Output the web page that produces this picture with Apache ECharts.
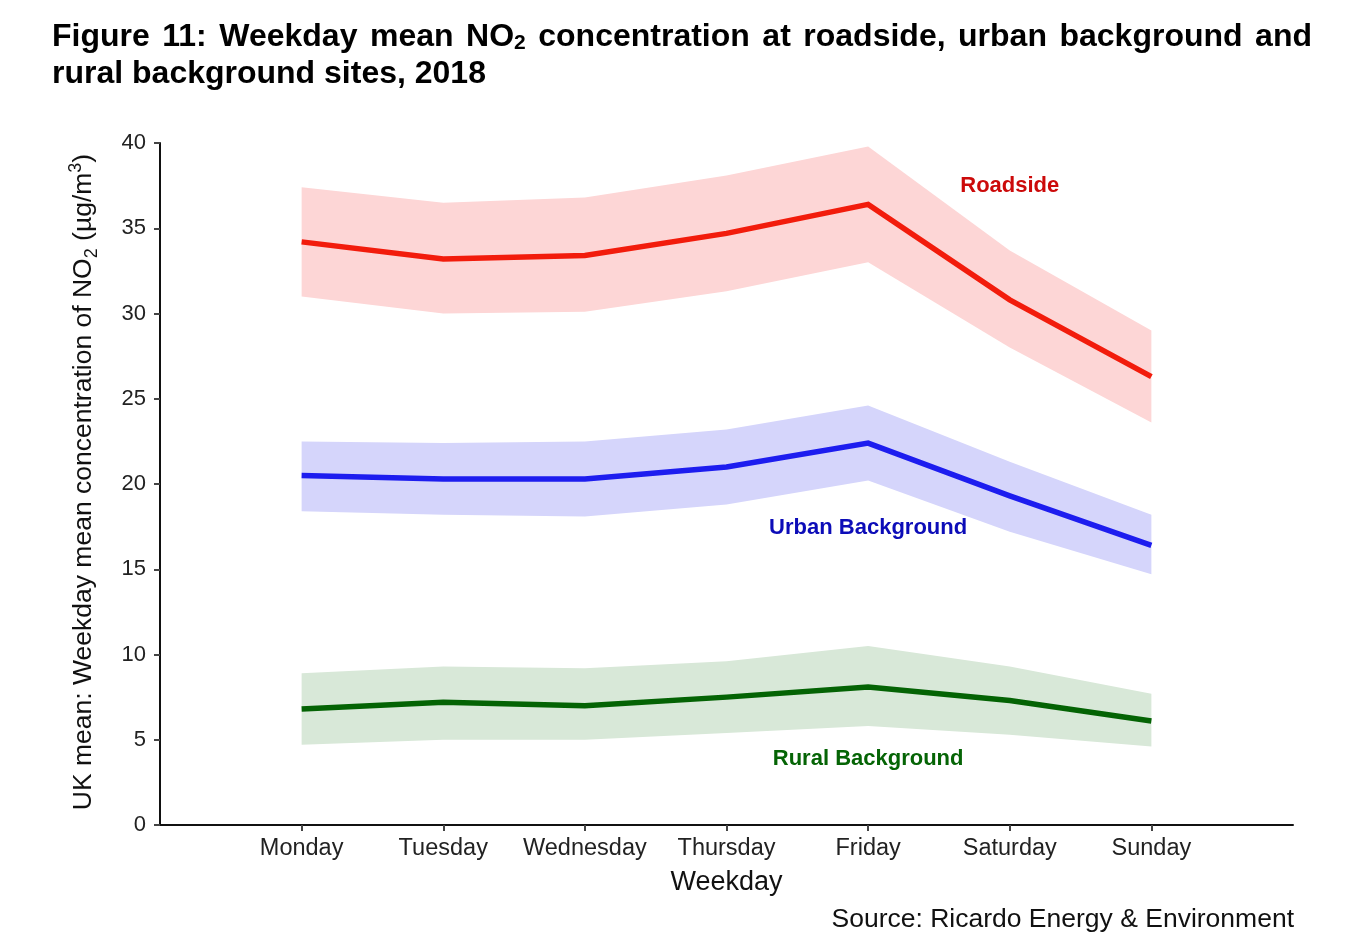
<!DOCTYPE html>
<html>
<head>
<meta charset="utf-8">
<script src="https://cdn.jsdelivr.net/npm/echarts@6/dist/echarts.min.js"></script>
<style>
html,body{margin:0;padding:0;background:#fff;}
#chart{width:1355px;height:944px;}
</style>
</head>
<body>
<div id="chart"></div>
<script>
// ---- data ----
const categories = ['Monday', 'Tuesday', 'Wednesday', 'Thursday', 'Friday', 'Saturday', 'Sunday'];
const roadMean  = [34.2, 33.2, 33.4, 34.7, 36.4, 30.8, 26.3];
const roadUpper = [37.4, 36.5, 36.8, 38.1, 39.8, 33.7, 29.0];
const roadLower = [31.0, 30.0, 30.1, 31.3, 33.0, 28.0, 23.6];
const urbanMean  = [20.5, 20.3, 20.3, 21.0, 22.4, 19.3, 16.4];
const urbanUpper = [22.5, 22.4, 22.5, 23.2, 24.6, 21.3, 18.2];
const urbanLower = [18.4, 18.2, 18.1, 18.8, 20.2, 17.2, 14.7];
const ruralMean  = [6.8, 7.2, 7.0, 7.5, 8.1, 7.3, 6.1];
const ruralUpper = [8.9, 9.3, 9.2, 9.6, 10.5, 9.3, 7.7];
const ruralLower = [4.7, 5.0, 5.0, 5.4, 5.8, 5.3, 4.6];
const yTicks = [0, 5, 10, 15, 20, 25, 30, 35, 40];
const seriesLabels = [
  {name: 'Roadside', day: 'Saturday', value: 37.5},
  {name: 'Urban Background', day: 'Friday', value: 17.4},
  {name: 'Rural Background', day: 'Friday', value: 3.9}
];

const FONT = '"Liberation Sans", Arial, Helvetica, sans-serif';
const xCats = [''].concat(categories).concat(['']);
const pad = arr => [null].concat(arr).concat([null]);
const diff = (u, l) => u.map((v, i) => +(v - l[i]).toFixed(2));

const groups = [
  {key: 'road', mean: roadMean, upper: roadUpper, lower: roadLower, line: '#f21c0c', band: '#fdd6d6', label: '#cc0a0a'},
  {key: 'urban', mean: urbanMean, upper: urbanUpper, lower: urbanLower, line: '#1d1def', band: '#d5d5fb', label: '#0c0cb8'},
  {key: 'rural', mean: ruralMean, upper: ruralUpper, lower: ruralLower, line: '#046304', band: '#d8e8d8', label: '#056405'}
];

const series = [];
groups.forEach(g => {
  series.push({
    type: 'line', stack: g.key, data: pad(g.lower), symbol: 'none',
    lineStyle: {opacity: 0}, silent: true, z: 1
  });
  series.push({
    type: 'line', stack: g.key, data: pad(diff(g.upper, g.lower)), symbol: 'none',
    lineStyle: {opacity: 0}, areaStyle: {color: g.band, opacity: 1}, silent: true, z: 1
  });
});
groups.forEach(g => {
  series.push({
    type: 'line', data: pad(g.mean), symbol: 'none',
    lineStyle: {color: g.line, width: 5.5, join: 'miter'}, z: 3
  });
});
series.push({
  type: 'scatter', symbolSize: 1, itemStyle: {color: '#ffffff', opacity: 0},
  data: seriesLabels.map((s, i) => ({value: [s.day, s.value], name: s.name,
    label: {show: true, position: 'inside', formatter: s.name, color: groups[i].label, opacity: 1,
      fontFamily: FONT, fontWeight: 'bold', fontSize: 22}})),
  z: 4
});

// ---- title: justified first line ----
const graphics = [];
const ctx = document.createElement('canvas').getContext('2d');
const TS = 32, TSUB = 21;
function wordWidth(w) {
  if (w === 'NO2') {
    ctx.font = 'bold ' + TS + 'px ' + FONT; const a = ctx.measureText('NO').width;
    ctx.font = 'bold ' + TSUB + 'px ' + FONT; return a + ctx.measureText('2').width;
  }
  ctx.font = 'bold ' + TS + 'px ' + FONT; return ctx.measureText(w).width;
}
const line1 = ['Figure', '11:', 'Weekday', 'mean', 'NO2', 'concentration', 'at', 'roadside,', 'urban', 'background', 'and'];
const L = 52, R = 1312, Y1 = 37, Y2 = 74;
const widths = line1.map(wordWidth);
const gap = (R - L - widths.reduce((a, b) => a + b, 0)) / (line1.length - 1);
let cx = L;
line1.forEach((w, i) => {
  const text = w === 'NO2' ? '{b|NO}{s|2}' : '{b|' + w + '}';
  graphics.push({type: 'text', x: cx, y: Y1, style: {
    text: text, verticalAlign: 'middle', align: 'left',
    rich: {b: {fontFamily: FONT, fontWeight: 'bold', fontSize: TS, fill: '#000', lineHeight: 34},
           s: {fontFamily: FONT, fontWeight: 'bold', fontSize: TSUB, fill: '#000', lineHeight: 34, verticalAlign: 'bottom'}}
  }});
  cx += widths[i] + gap;
});
graphics.push({type: 'text', x: L, y: Y2, style: {
  text: 'rural background sites, 2018', verticalAlign: 'middle', align: 'left',
  fontFamily: FONT, fontWeight: 'bold', fontSize: TS, fill: '#000'
}});
// y-axis name
graphics.push({type: 'text', x: 84, y: 482, rotation: Math.PI / 2, style: {
  text: '{t|UK mean: Weekday mean concentration of NO}{sub|2}{t| (µg/m}{sup|3}{t|)}',
  align: 'center', verticalAlign: 'middle',
  rich: {
    t: {fontFamily: FONT, fontSize: 26.5, fill: '#111', lineHeight: 34},
    sub: {fontFamily: FONT, fontSize: 18, fill: '#111', lineHeight: 34, verticalAlign: 'bottom'},
    sup: {fontFamily: FONT, fontSize: 18, fill: '#111', lineHeight: 34, verticalAlign: 'top'}
  }
}});
// source
graphics.push({type: 'text', x: 1294, y: 920, style: {
  text: 'Source: Ricardo Energy & Environment', align: 'right', verticalAlign: 'middle',
  fontFamily: FONT, fontSize: 26.5, fill: '#111'
}});

const chart = echarts.init(document.getElementById('chart'), null, {renderer: 'canvas'});
chart.setOption({
  backgroundColor: '#fff',
  animation: false,
  grid: {left: 160, right: 62, top: 143, bottom: 119, containLabel: false},
  xAxis: {
    type: 'category', data: xCats, boundaryGap: false,
    name: 'Weekday', nameLocation: 'middle', nameGap: 44,
    nameTextStyle: {fontFamily: FONT, fontSize: 27, color: '#111'},
    axisLine: {lineStyle: {color: '#111', width: 2}},
    axisTick: {show: true, length: 6, lineStyle: {color: '#444', width: 2},
      interval: (i, v) => v !== ''},
    axisLabel: {fontFamily: FONT, fontSize: 23.5, color: '#222', margin: 12, interval: 0},
    splitLine: {show: false}
  },
  yAxis: {
    type: 'value', min: 0, max: 40, interval: 5,
    axisLine: {show: true, lineStyle: {color: '#111', width: 2}},
    axisTick: {show: true, length: 6, lineStyle: {color: '#444', width: 2}},
    axisLabel: {fontFamily: FONT, fontSize: 22, color: '#222', margin: 14,
      formatter: v => yTicks.indexOf(v) >= 0 ? String(v) : ''},
    splitLine: {show: false}
  },
  series: series,
  graphic: graphics
});
</script>
</body>
</html>
